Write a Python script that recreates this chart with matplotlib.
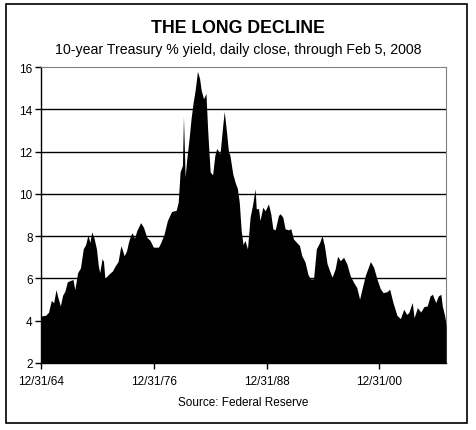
import matplotlib.pyplot as plt
from matplotlib.patches import Rectangle

plt.rcParams['font.family'] = ['Liberation Sans', 'DejaVu Sans']

# 10-year Treasury yield (%)
years = [1965.0, 1965.5, 1965.8, 1966.1, 1966.35, 1966.6, 1966.8, 1967.06, 1967.3, 1967.55,
         1967.8, 1968.1, 1968.4, 1968.6, 1968.9, 1969.2, 1969.5, 1969.75, 1970.0, 1970.2,
         1970.4, 1970.65, 1970.9, 1971.1, 1971.25, 1971.5, 1971.65, 1971.8, 1972.0, 1972.3,
         1972.6, 1972.85, 1973.2, 1973.5, 1973.7, 1973.85, 1974.1, 1974.3, 1974.5, 1974.7,
         1974.95, 1975.2, 1975.6, 1975.9, 1976.25, 1976.6, 1976.96, 1977.5, 1977.75, 1978.1,
         1978.45, 1978.9, 1979.38, 1979.6, 1979.8, 1980.05, 1980.16, 1980.34, 1980.5, 1980.76,
         1980.97, 1981.2, 1981.4, 1981.65, 1981.87, 1982.05, 1982.3, 1982.55, 1982.75, 1983.0,
         1983.26, 1983.5, 1983.7, 1984.05, 1984.34, 1984.5, 1984.7, 1984.95, 1985.1, 1985.4,
         1985.65, 1985.9, 1986.1, 1986.3, 1986.5, 1986.7, 1986.97, 1987.25, 1987.5, 1987.79,
         1987.9, 1988.15, 1988.3, 1988.6, 1988.86, 1989.2, 1989.45, 1989.67, 1989.92, 1990.27,
         1990.45, 1990.73, 1990.97, 1991.33, 1991.58, 1991.86, 1992.2, 1992.5, 1992.75, 1993.1,
         1993.4, 1993.65, 1994.0, 1994.3, 1994.65, 1994.9, 1995.15, 1995.44, 1995.7, 1995.97,
         1996.3, 1996.56, 1996.85, 1997.2, 1997.55, 1997.9, 1998.27, 1998.6, 1998.9, 1999.15,
         1999.5, 2000.05, 2000.4, 2000.75, 2001.1, 2001.4, 2001.8, 2002.1, 2002.45, 2002.88,
         2003.24, 2003.6, 2003.9, 2004.13, 2004.5, 2004.7, 2005.05, 2005.4, 2005.75, 2006.1,
         2006.4, 2006.65, 2007.0, 2007.27, 2007.55, 2007.7, 2007.96, 2008.1]
yields = [4.22, 4.26, 4.4, 4.96, 4.85, 5.47, 5.1, 4.7, 5.2, 5.4,
          5.84, 5.9, 5.95, 5.47, 6.27, 6.5, 7.4, 7.6, 8.06, 7.7,
          8.2, 7.9, 7.4, 6.6, 6.27, 6.94, 6.8, 6.0, 6.1, 6.24,
          6.35, 6.56, 6.8, 7.55, 7.3, 7.07, 7.3, 7.7, 8.0, 8.16,
          7.9, 8.27, 8.64, 8.43, 7.95, 7.8, 7.48, 7.48, 7.7, 8.1,
          8.74, 9.17, 9.22, 9.6, 11.04, 11.35, 13.65, 10.8, 11.6, 12.62,
          13.57, 14.36, 14.9, 15.8, 15.47, 14.9, 14.5, 14.75, 12.9, 11.04,
          10.9, 11.83, 12.15, 11.9, 13.25, 13.9, 13.1, 12.0, 11.83, 10.96,
          10.56, 10.25, 9.6, 8.27, 7.6, 7.8, 7.4, 8.9, 9.45, 10.24,
          9.3, 9.3, 8.74, 9.37, 9.2, 9.53, 9.06, 8.35, 8.3, 8.98,
          9.06, 8.9, 8.35, 8.3, 8.35, 7.87, 7.7, 7.56, 7.08, 6.77,
          6.2, 5.98, 5.98, 7.4, 7.7, 8.03, 7.56, 6.7, 6.37, 6.06,
          6.45, 7.05, 6.84, 7.0, 6.68, 6.13, 5.81, 5.57, 5.02, 5.49,
          6.13, 6.8, 6.52, 5.97, 5.52, 5.33, 5.37, 5.49, 4.86, 4.25,
          4.1, 4.54, 4.3, 4.38, 4.86, 4.14, 4.62, 4.41, 4.67, 4.7,
          5.17, 5.25, 4.86, 5.17, 5.25, 4.7, 4.22, 3.75]

tick_years = [1965.0, 1977.0, 1989.0, 2001.0]
tick_labels = ["12/31/64", "12/31/76", "12/31/88", "12/31/00"]

fig = plt.figure(figsize=(4.76, 4.31), dpi=100)
fig.patches.append(Rectangle((0.0126, 0.0162), 0.968, 0.972, transform=fig.transFigure,
                             fill=False, edgecolor='black', lw=1.2))

ax = fig.add_axes([0.0861, 0.1555, 0.851, 0.6865])
ax.fill_between(years, yields, 2, color='black', lw=0, zorder=3)
ax.set_xlim(1965.0, 2008.1)
ax.set_ylim(2, 16)
ax.set_yticks(range(2, 17, 2))
ax.set_xticks(tick_years)
ax.set_xticklabels(tick_labels)
for v in range(4, 16, 2):
    ax.axhline(v, color='black', lw=1.0, zorder=1)

for s in ['top', 'right']:
    ax.spines[s].set_color('#808080')
    ax.spines[s].set_linestyle((0, (1, 1)))
    ax.spines[s].set_linewidth(0.8)
ax.spines['left'].set_linewidth(1.0)
ax.spines['bottom'].set_linewidth(1.0)
ax.tick_params(axis='both', length=4, width=1, direction='out', labelsize=8.5, pad=2)
ax.tick_params(axis='x', pad=5)

fig.text(0.5, 0.933, "THE LONG DECLINE", ha='center', va='center', fontsize=12.8, fontweight='bold')
fig.text(0.5, 0.884, "10-year Treasury % yield, daily close, through Feb 5, 2008",
         ha='center', va='center', fontsize=10.2)
fig.text(0.51, 0.065, "Source: Federal Reserve", ha='center', va='center', fontsize=8.5)

plt.savefig("out.png", dpi=100)
